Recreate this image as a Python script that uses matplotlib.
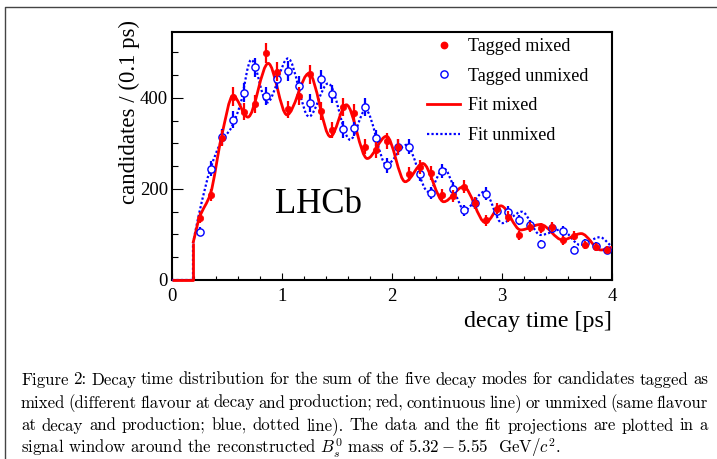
import matplotlib
matplotlib.use("Agg")
import numpy as np
import matplotlib.pyplot as plt
from matplotlib.path import Path
from matplotlib.patches import PathPatch
from matplotlib.lines import Line2D
from matplotlib.ticker import MultipleLocator

plt.rcParams["mathtext.fontset"] = "cm"

# ---- data -------------------------------------------------------------
decay_time = [0.25, 0.35, 0.45, 0.55, 0.65, 0.75, 0.85, 0.95, 1.05, 1.15,
              1.25, 1.35, 1.45, 1.55, 1.65, 1.75, 1.85, 1.95, 2.05, 2.15,
              2.25, 2.35, 2.45, 2.55, 2.65, 2.75, 2.85, 2.95, 3.05, 3.15,
              3.25, 3.35, 3.45, 3.55, 3.65, 3.75, 3.85, 3.95]

mixed_counts = [137, 187, 313, 403, 370, 387, 499, 458, 375, 405,
                452, 371, 330, 381, 367, 293, 286, 306, 292, 232,
                249, 236, 187, 185, 205, 170, 131, 157, 139, 98,
                117, 115, 116, 87, 97, 77, 73, 67]

unmixed_counts = [106, 245, 314, 352, 412, 467, 405, 441, 459, 427,
                  390, 441, 409, 331, 335, 381, 312, 252, 292, 293,
                  233, 191, 240, 201, 153, 170, 190, 152, 150, 132,
                  120, 79, 115, 108, 67, 82, 74, 67]

# fit projections: turn-on time, then knots along each curve
fit_onset = 0.191
fit_mixed_t = [0.191, 0.25, 0.35, 0.45, 0.555, 0.69, 0.875, 1.045, 1.245,
               1.44, 1.585, 1.775, 1.95, 2.12, 2.28, 2.47, 2.65, 2.85, 2.99,
               3.17, 3.35, 3.55, 3.72, 3.90, 4.0]
fit_mixed_y = [81, 137, 190, 315, 405, 358, 476, 363, 454,
               315, 385, 267, 316, 216, 256, 172, 205, 126, 163,
               110, 122, 88, 102, 66, 72]

fit_unmixed_t = [0.191, 0.25, 0.35, 0.45, 0.54, 0.62, 0.72, 0.865, 1.055,
                 1.245, 1.42, 1.62, 1.76, 1.95, 2.13, 2.33, 2.47, 2.66,
                 2.84, 3.0, 3.18, 3.35, 3.54, 3.71, 3.89, 4.0]
fit_unmixed_y = [81, 150, 245, 305, 335, 385, 484, 390, 487,
                 359, 432, 308, 374, 253, 297, 194, 245, 154,
                 194, 125, 150, 99, 111, 77, 94, 73]

legend_labels = ["Tagged mixed", "Tagged unmixed", "Fit mixed", "Fit unmixed"]

caption_lines = [
    "Figure 2: Decay time distribution for the sum of the five decay modes for candidates tagged as",
    "mixed (different flavour at decay and production; red, continuous line) or unmixed (same flavour",
    "at decay and production; blue, dotted line). The data and the fit projections are plotted in a",
    r"signal window around the reconstructed $B_s^0$ mass of $5.32-5.55$  GeV/$c^2$.",
]

# ---- helpers ----------------------------------------------------------
def smooth_path(t, y):
    """Monotone cubic (PCHIP-style) Bezier path through the knots."""
    t = np.asarray(t, float)
    y = np.asarray(y, float)
    h = np.diff(t)
    d = np.diff(y) / h
    n = len(t)
    m = np.zeros(n)
    for k in range(1, n - 1):
        if d[k - 1] * d[k] > 0:
            w1 = 2 * h[k] + h[k - 1]
            w2 = h[k] + 2 * h[k - 1]
            m[k] = (w1 + w2) / (w1 / d[k - 1] + w2 / d[k])
    m[0] = d[0]
    m[-1] = d[-1]
    verts = [(t[0], y[0])]
    codes = [Path.MOVETO]
    for k in range(n - 1):
        verts += [(t[k] + h[k] / 3, y[k] + m[k] * h[k] / 3),
                  (t[k + 1] - h[k] / 3, y[k + 1] - m[k + 1] * h[k] / 3),
                  (t[k + 1], y[k + 1])]
        codes += [Path.CURVE4] * 3
    return Path(verts, codes)


W, H = 717, 459
fig = plt.figure(figsize=(W / 100, H / 100), dpi=100)
fig.patch.set_facecolor("white")

# page frame
fig.add_artist(Line2D([4.5 / W, 4.5 / W, 1.0], [0.0, 1 - 6.5 / H, 1 - 6.5 / H],
                      transform=fig.transFigure, color="#444444", lw=1.0))

ax = fig.add_axes([172 / W, 1 - 280 / H, 440 / W, 248 / H])
serif = "Liberation Serif"

RED = "#ff0000"
BLUE = "#0000ff"

# fit curves
for tk, yk, col, ls, lw, z in [
        (fit_unmixed_t, fit_unmixed_y, BLUE, (0, (1, 1)), 1.6, 3),
        (fit_mixed_t, fit_mixed_y, RED, "-", 2.0, 4)]:
    ax.add_patch(PathPatch(smooth_path(tk, yk), fill=False, edgecolor=col,
                           lw=lw, linestyle=ls, zorder=z))
    ax.plot([0, fit_onset, fit_onset], [0, 0, yk[0]], color=col, lw=lw,
            linestyle=ls, zorder=z + 2, clip_on=False, solid_capstyle="butt")

# data points
t = np.asarray(decay_time)
unm = np.asarray(unmixed_counts, float)
mix = np.asarray(mixed_counts, float)
ax.errorbar(t, unm, yerr=np.sqrt(unm), fmt="o", ms=5.2, mfc="white",
            mec=BLUE, mew=1.0, ecolor=BLUE, elinewidth=1.6, capsize=0,
            zorder=6)
ax.errorbar(t, mix, yerr=np.sqrt(mix), fmt="o", ms=4.6, mfc=RED,
            mec=RED, mew=0.5, ecolor=RED, elinewidth=1.6, capsize=0,
            zorder=7)

# axes styling
ax.set_xlim(0, 4)
ax.set_ylim(0, 545)
for sp in ax.spines.values():
    sp.set_linewidth(1.5)
ax.xaxis.set_major_locator(MultipleLocator(1))
ax.xaxis.set_minor_locator(MultipleLocator(0.2))
ax.yaxis.set_major_locator(MultipleLocator(200))
ax.yaxis.set_minor_locator(MultipleLocator(50))
ax.tick_params(which="both", direction="in", top=False, right=False,
               width=0.8, labelsize=13.5)
ax.tick_params(axis="x", which="major", length=5, pad=6)
ax.tick_params(axis="x", which="minor", length=2.6)
ax.tick_params(axis="y", which="major", length=8, pad=3)
ax.tick_params(axis="y", which="minor", length=4.3)
for lab in ax.get_xticklabels() + ax.get_yticklabels():
    lab.set_family(serif)

ax.text(1.0, -(327 - 280) / 248, "decay time [ps]", transform=ax.transAxes,
        ha="right", va="baseline", fontsize=17.3, family=serif)
ax.text(-(172 - 135) / 440, (280 - 20) / 248, "candidates / (0.1 ps)",
        transform=ax.transAxes, rotation=90, rotation_mode="anchor",
        ha="right", va="baseline", fontsize=16.4, family=serif)
ax.text((275 - 172) / 440, (280 - 213) / 248, "LHCb", transform=ax.transAxes,
        ha="left", va="baseline", fontsize=25, family=serif)

handles = [
    Line2D([], [], ls="none", marker="o", ms=4.6, mfc=RED, mec=RED),
    Line2D([], [], ls="none", marker="o", ms=5.2, mfc="white", mec=BLUE, mew=1.0),
    Line2D([], [], color=RED, lw=2.0),
    Line2D([], [], color=BLUE, lw=1.6, linestyle=(0, (1, 1))),
]
ax.legend(handles, legend_labels, loc="upper left",
          bbox_to_anchor=((427 - 172) / 440, (280 - 38) / 248),
          frameon=False, borderpad=0, borderaxespad=0, handlelength=1.85,
          handletextpad=0.4, labelspacing=0.7,
          prop={"family": serif, "size": 13})

# caption, justified word by word between the page margins
renderer = fig.canvas.get_renderer()
cap_family = "cmr10"
cap_size = 12.1
x_left, x_right = 21.0, 708.0
baselines = [384.5, 407.5, 430.5, 453.5]
for i, (line, yb) in enumerate(zip(caption_lines, baselines)):
    if i == len(caption_lines) - 1:
        fig.text(x_left / W, 1 - yb / H, line, fontsize=cap_size,
                 family=cap_family, va="baseline", ha="left")
        continue
    words = line.split(" ")
    objs = [fig.text(0, 1 - yb / H, w, fontsize=cap_size, family=cap_family,
                     va="baseline", ha="left") for w in words]
    widths = [o.get_window_extent(renderer).width for o in objs]
    gap = (x_right - x_left - sum(widths)) / (len(words) - 1)
    x = x_left
    for o, w in zip(objs, widths):
        o.set_x(x / W)
        x += w + gap

fig.savefig("out.png", dpi=100, facecolor="white")
